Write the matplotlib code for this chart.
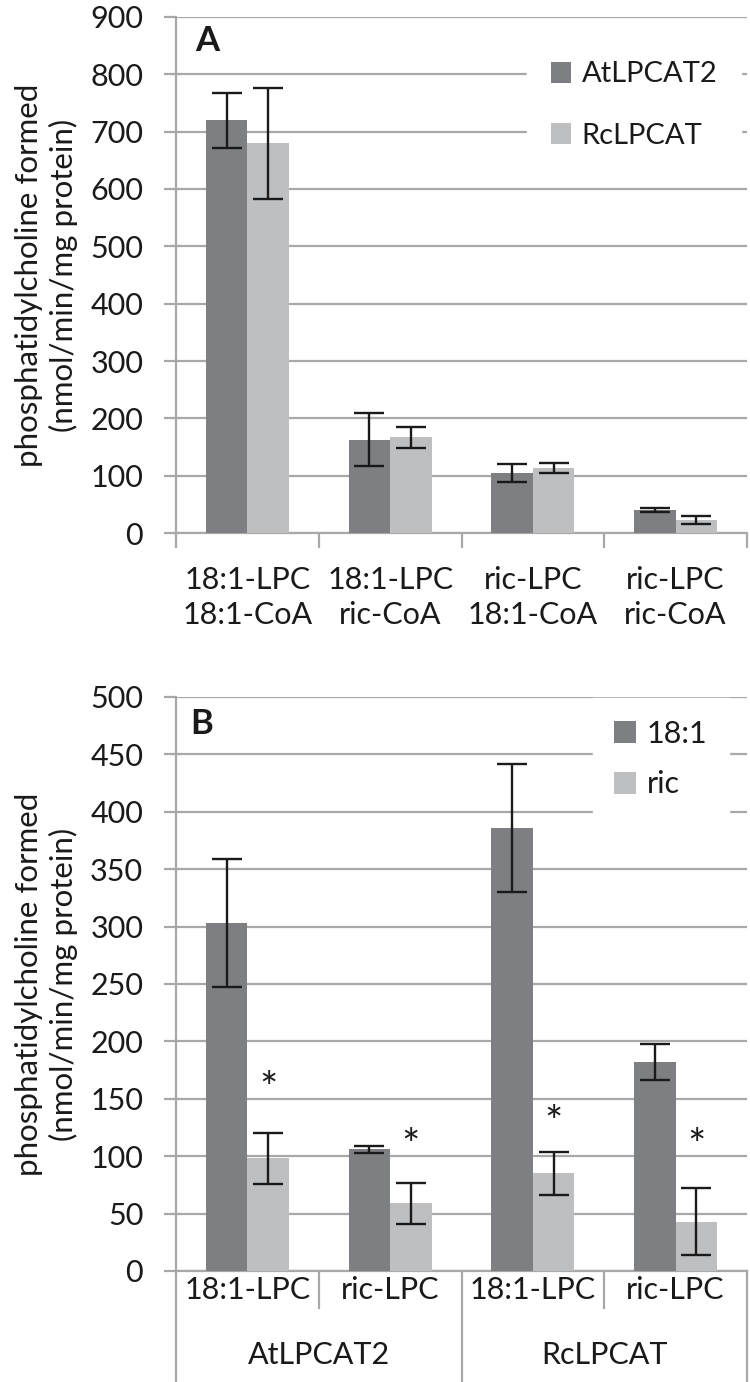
import matplotlib
matplotlib.use("Agg")
import matplotlib.pyplot as plt
import numpy as np

plt.rcParams['font.family'] = ['Lato', 'DejaVu Sans']

# ---- Data panel A ----
a_categories = ["18:1-LPC\n18:1-CoA", "18:1-LPC\nric-CoA", "ric-LPC\n18:1-CoA", "ric-LPC\nric-CoA"]
a_series = ["AtLPCAT2", "RcLPCAT"]
a_at = [720, 163, 105, 40]
a_at_err = [48, 47, 16, 3]
a_rc = [680, 167, 113, 22]
a_rc_err = [97, 18, 9, 7]

# ---- Data panel B ----
b_categories = ["18:1-LPC", "ric-LPC", "18:1-LPC", "ric-LPC"]
b_groups = ["AtLPCAT2", "RcLPCAT"]
b_series = ["18:1", "ric"]
b_181 = [303, 106, 386, 182]
b_181_err = [56, 3, 56, 16]
b_ric = [98, 59, 85, 43]
b_ric_err = [22, 18, 19, 29]
b_star_y = [165, 115, 135, 115]

DARK = "#7e7f83"
LIGHT = "#bebfc1"
GRID = "#a8a8a8"
TXT = "#1a1a1a"
FS = 22

W, H = 750, 1382
fig = plt.figure(figsize=(W / 100, H / 100), dpi=100)

def fx(px):
    return px / W

def fy(py):
    return 1 - py / H

L, R = 176, 747
axA = fig.add_axes([fx(L), fy(533), fx(R) - fx(L), fy(17) - fy(533)])
axB = fig.add_axes([fx(L), fy(1271), fx(R) - fx(L), fy(697) - fy(1271)])

bw = 0.29
err_kw = dict(ecolor="#1a1a1a", elinewidth=1.7, capsize=10.5, capthick=1.7)

def style(ax, ymax, step):
    ax.set_xlim(-0.5, 3.5)
    ax.set_ylim(0, ymax)
    ax.set_yticks(np.arange(0, ymax + 1, step))
    ax.yaxis.grid(True, color=GRID, linewidth=1.6)
    ax.set_axisbelow(True)
    for s in ["top", "right"]:
        ax.spines[s].set_visible(False)
    ax.spines["left"].set_color(GRID)
    ax.spines["left"].set_linewidth(1.6)
    ax.spines["bottom"].set_color(GRID)
    ax.spines["bottom"].set_linewidth(1.6)
    ax.tick_params(axis="y", length=8.6, width=1.6, color=GRID, labelsize=FS,
                   labelcolor=TXT, pad=15)
    ax.set_ylabel("phosphatidylcholine formed\n(nmol/min/mg protein)",
                  fontsize=22.5, color=TXT, linespacing=1.25)
    ax.yaxis.set_label_coords(-0.172, 0.5)

x = np.arange(4)

# Panel A
axA.bar(x - bw / 2, a_at, bw, color=DARK, label=a_series[0], yerr=a_at_err,
        error_kw=err_kw, zorder=3)
axA.bar(x + bw / 2, a_rc, bw, color=LIGHT, label=a_series[1], yerr=a_rc_err,
        error_kw=err_kw, zorder=3)
style(axA, 900, 100)
axA.set_xticks(x)
axA.set_xticklabels(a_categories, fontsize=FS, color=TXT, linespacing=1.3)
axA.set_xticks(np.arange(-0.5, 4, 1), minor=True)
axA.tick_params(axis="x", which="major", length=0, pad=24)
axA.tick_params(axis="x", which="minor", length=11, width=1.6, color=GRID)
axA.text(0.033, 0.984, "A", transform=axA.transAxes, fontsize=25,
         fontweight="bold", va="top", ha="left", color=TXT)
legA = axA.legend(loc="center", bbox_to_anchor=(fx(634), fy(105)),
                  bbox_transform=fig.transFigure, fontsize=21,
                  frameon=True, framealpha=1, edgecolor="white",
                  handlelength=0.7, handleheight=0.7, handletextpad=0.35,
                  labelspacing=1.2, borderpad=0.8, fancybox=False)
for t in legA.get_texts():
    t.set_color(TXT)

# Panel B
axB.bar(x - bw / 2, b_181, bw, color=DARK, label=b_series[0], yerr=b_181_err,
        error_kw=err_kw, zorder=3)
axB.bar(x + bw / 2, b_ric, bw, color=LIGHT, label=b_series[1], yerr=b_ric_err,
        error_kw=err_kw, zorder=3)
style(axB, 500, 50)
axB.set_xticks([])
for xi, sy in zip(x, b_star_y):
    axB.annotate("*", (xi + bw / 2, sy), xytext=(0, -6),
                 textcoords="offset points", ha="center", va="center",
                 fontsize=31, color=TXT)
axB.text(0.025, 0.981, "B", transform=axB.transAxes, fontsize=25,
         fontweight="bold", va="top", ha="left", color=TXT)
legB = axB.legend(loc="center", bbox_to_anchor=(fx(661), fy(759)),
                  bbox_transform=fig.transFigure, fontsize=22,
                  frameon=True, framealpha=1, edgecolor="white",
                  handlelength=0.72, handleheight=0.72, handletextpad=0.35,
                  labelspacing=0.75, borderpad=0.7, fancybox=False)
for t in legB.get_texts():
    t.set_color(TXT)

# Panel B multi-level category axis
hB = 1271 - 697
trB = axB.get_xaxis_transform()
for xb in [0.5, 2.5]:
    axB.plot([xb, xb], [0, -37 / hB], transform=trB, color=GRID,
             lw=1.6, clip_on=False)
for xb in [-0.5, 1.5, 3.5]:
    axB.plot([xb, xb], [0, -(1382 - 1271) / hB], transform=trB, color=GRID,
             lw=1.6, clip_on=False)
for xi, lab in zip(x, b_categories):
    axB.text(xi, -19 / hB, lab, transform=trB, ha="center",
             va="center", fontsize=FS, color=TXT)
for gi, g in enumerate(b_groups):
    axB.text(0.5 + 2 * gi, -84 / hB, g, transform=trB,
             ha="center", va="center", fontsize=FS, color=TXT)

fig.savefig("out.png", dpi=100)
